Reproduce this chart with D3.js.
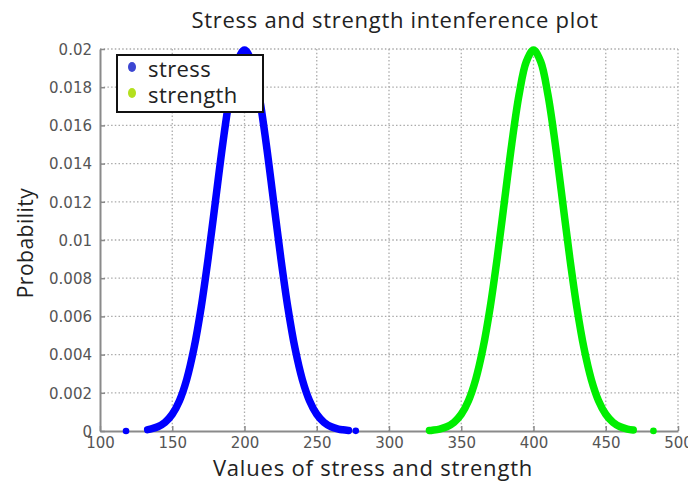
<!DOCTYPE html>
<html>
<head>
<meta charset="utf-8">
<script src="https://cdn.jsdelivr.net/npm/d3@7"></script>
<style>
  body { margin: 0; background: #fff; }
  svg { display: block; }
</style>
</head>
<body>
<div id="chart"></div>
<script>
// stress curve
const stressX = [133, 136, 140, 145, 150, 155, 160, 165, 170, 175, 180, 185, 190, 195, 200,
                 205, 210, 215, 220, 225, 230, 235, 240, 245, 250, 255, 260, 265, 268, 272];
const stressY = [0.000073, 0.000119, 0.000222, 0.000455, 0.000876, 0.001587, 0.0027, 0.004314,
                 0.006476, 0.009132, 0.012099, 0.015057, 0.017603, 0.019333, 0.019947,
                 0.019333, 0.017603, 0.015057, 0.012099, 0.009132, 0.006476, 0.004314, 0.0027,
                 0.001587, 0.000876, 0.000455, 0.000222, 0.000101, 0.000062, 0.000031];
const stressOutX = [118, 277];
const stressOutY = [0.000003, 0.000007];

// strength curve
const strengthX = [328, 330, 335, 340, 345, 350, 355, 360, 365, 370, 375, 380, 385, 390, 395, 400,
                   405, 410, 415, 420, 425, 430, 435, 440, 445, 450, 455, 460, 465, 469];
const strengthY = [0.000027, 0.000044, 0.000101, 0.000222, 0.000455, 0.000876, 0.001587, 0.0027,
                   0.004314, 0.006476, 0.009132, 0.012099, 0.015057, 0.017603, 0.019333, 0.019947,
                   0.019333, 0.017603, 0.015057, 0.012099, 0.009132, 0.006476, 0.004314, 0.0027,
                   0.001587, 0.000876, 0.000455, 0.000222, 0.000101, 0.000052];
const strengthOutX = [483];
const strengthOutY = [0.000004];

const xTicks = [100, 150, 200, 250, 300, 350, 400, 450, 500];
const yTicks = [0, 0.002, 0.004, 0.006, 0.008, 0.01, 0.012, 0.014, 0.016, 0.018, 0.02];
const seriesNames = ["stress", "strength"];

const W = 688, H = 483;
const margin = { top: 49, right: 10, bottom: 52, left: 100 },
      width = 678 - margin.left,
      height = 431 - margin.top;

const svg = d3.select("#chart").append("svg")
  .attr("width", W)
  .attr("height", H);

const g = svg.append("g")
  .attr("transform", `translate(${margin.left},${margin.top})`);

const x = d3.scaleLinear().domain([100, 500]).range([0, width]);
const y = d3.scaleLinear().domain([0, 0.02]).range([height, 0]);

// dotted grid
g.append("g")
  .selectAll("line")
  .data(xTicks.slice(1))
  .enter().append("line")
  .attr("x1", d => x(d)).attr("x2", d => x(d))
  .attr("y1", 0).attr("y2", height)
  .attr("stroke", "#ababab")
  .attr("stroke-width", 1.3)
  .attr("stroke-dasharray", "1.5,2.2");

g.append("g")
  .selectAll("line")
  .data(yTicks.slice(1))
  .enter().append("line")
  .attr("x1", 0).attr("x2", width)
  .attr("y1", d => y(d)).attr("y2", d => y(d))
  .attr("stroke", "#ababab")
  .attr("stroke-width", 1.3)
  .attr("stroke-dasharray", "1.5,2.2");

// axes
const xAxis = g.append("g")
  .attr("transform", `translate(0,${height})`)
  .call(d3.axisBottom(x).tickValues(xTicks).tickSizeInner(-5).tickSizeOuter(0).tickPadding(6));

const yAxis = g.append("g")
  .call(d3.axisLeft(y).tickValues(yTicks).tickSizeInner(-5).tickSizeOuter(0).tickPadding(8)
    .tickFormat(d => d3.format("~g")(d)));

[xAxis, yAxis].forEach(a => {
  a.select(".domain").attr("stroke", "#8a8a8a").attr("stroke-width", 2);
  a.selectAll(".tick line").attr("stroke", "#8a8a8a").attr("stroke-width", 1.5);
  a.selectAll(".tick text")
    .attr("fill", "#555")
    .style("font-family", "DejaVu Sans, sans-serif")
    .style("font-size", "15px");
});
yAxis.selectAll(".tick text").attr("dy", "0.35em");

// curves
const line = d3.line()
  .x(d => x(d[0]))
  .y(d => y(d[1]))
  .curve(d3.curveCatmullRom);

const curves = [
  { xs: stressX, ys: stressY, ox: stressOutX, oy: stressOutY, color: "#0000ff" },
  { xs: strengthX, ys: strengthY, ox: strengthOutX, oy: strengthOutY, color: "#00ee00" }
];

curves.forEach(c => {
  const pts = c.xs.map((v, i) => [v, c.ys[i]]);
  g.append("path")
    .datum(pts)
    .attr("d", line)
    .attr("fill", "none")
    .attr("stroke", c.color)
    .attr("stroke-width", 7.5)
    .attr("stroke-linecap", "round")
    .attr("stroke-linejoin", "round");

  g.selectAll(null)
    .data(c.ox.map((v, i) => [v, c.oy[i]]))
    .enter().append("circle")
    .attr("cx", d => x(d[0]))
    .attr("cy", d => y(d[1]))
    .attr("r", 3.3)
    .attr("fill", c.color);
});

// title + labels
svg.append("text")
  .attr("x", 395)
  .attr("y", 28)
  .attr("text-anchor", "middle")
  .style("font-family", "Open Sans, sans-serif")
  .style("font-size", "22px")
  .style("letter-spacing", "0.7px")
  .attr("fill", "#222")
  .text("Stress and strength intenference plot");

svg.append("text")
  .attr("x", 373)
  .attr("y", 476)
  .attr("text-anchor", "middle")
  .style("font-family", "Open Sans, sans-serif")
  .style("font-size", "22px")
  .style("letter-spacing", "0.8px")
  .attr("fill", "#222")
  .text("Values of stress and strength");

svg.append("text")
  .attr("transform", "rotate(-90)")
  .attr("x", -243)
  .attr("y", 33)
  .attr("text-anchor", "middle")
  .style("font-family", "Open Sans, sans-serif")
  .style("font-size", "21px")
  .style("letter-spacing", "0.5px")
  .attr("fill", "#222")
  .text("Probability");

// legend
const legendColors = { stress: "#3c46d2", strength: "#b4e01e" };
const legend = svg.append("g").attr("transform", "translate(117,55)");

legend.append("rect")
  .attr("width", 146)
  .attr("height", 57)
  .attr("fill", "#fff")
  .attr("stroke", "#111")
  .attr("stroke-width", 2);

const items = legend.selectAll(".legend")
  .data(seriesNames)
  .enter().append("g")
  .attr("class", "legend")
  .attr("transform", (d, i) => `translate(0,${22 + i * 26})`);

items.append("ellipse")
  .attr("cx", 15)
  .attr("cy", -10)
  .attr("rx", 4)
  .attr("ry", 5)
  .attr("fill", d => legendColors[d]);

items.append("text")
  .attr("x", 31)
  .attr("y", 0)
  .style("font-family", "Open Sans, sans-serif")
  .style("font-size", "22px")
  .style("letter-spacing", "0.4px")
  .attr("fill", "#222")
  .text(d => d);
</script>
</body>
</html>
